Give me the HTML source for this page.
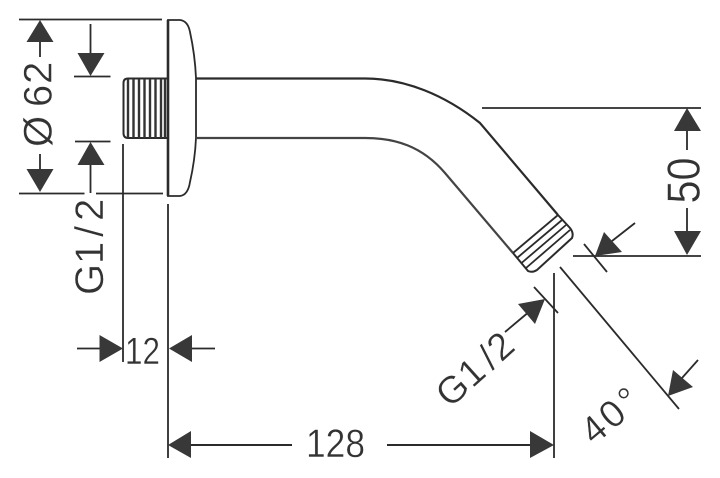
<!DOCTYPE html>
<html><head><meta charset="utf-8"><style>
html,body{margin:0;padding:0;background:#fff;width:720px;height:478px;overflow:hidden}
svg{display:block}
text{font-family:"Liberation Sans",sans-serif;fill:#333;font-size:40px;stroke:#fff;stroke-width:.4px}
</style></head><body>
<svg width="720" height="478" viewBox="0 0 720 478" xmlns="http://www.w3.org/2000/svg">
<rect width="720" height="478" fill="#fff"/>
<g fill="none" stroke="#2b2b2b" stroke-width="1.8">
<!-- left dimension lines -->
<path d="M19 19.5H162M19 193.5H84.5M96 193.5H163M74 76.5H110.5M75 141.5H110.5"/>
<path d="M40 40V57M40 154V170M90.5 24V55M90.5 163V193"/>
<path d="M123 144V362M168 204V458"/>
<path d="M77 348.5H101M192 348.5H215"/>
<path d="M191 445H292M387 445H532" stroke-width="2"/>
<!-- right dimension lines -->
<path d="M482 108H701M573 256H701M687 128V150M687 208V233"/>
<path d="M584 244L607 272M534 287L558 313M554 273V458M560 267L679 409"/>
<path d="M612 241L635 223M505 332L530 311M682 378L698 360"/>
</g>
<g fill="#383838" stroke="none">
<path d="M40 20L53.500 42H26.500Z"/>
<path d="M40 192L53.500 169H26.500Z"/>
<path d="M90.500 76L104.500 53H77.500Z"/>
<path d="M90.500 142L104.500 165H77.500Z"/>
<path d="M123 348.500L99.500 335V362Z"/>
<path d="M169 348.500L192 335V362Z"/>
<path d="M168 445L191 431V458Z"/>
<path d="M554 445L530 431V458Z"/>
<path d="M687 108L701 131H674Z"/>
<path d="M687 255L701 231H674Z"/>
<path d="M595 256L604 232L622 252Z"/>
<path d="M545 299L518 304L535 324Z"/>
<path d="M668 396L673 370L693 387Z"/>
</g>
<!-- plate -->
<g fill="none" stroke="#2b2b2b">
<path d="M168 196V20H180Q188 21 190 32Q195 55 196 78V138Q195 160 190 182Q188 195 180 196Z" stroke-width="1.800"/>
<path d="M168 20V196" stroke-width="2.600"/>
<!-- left thread -->
<path d="M168 78.500H128Q123.500 78.500 123.500 83V133Q123.500 138 128 138H168" stroke-width="2"/>
<path d="M128 79V138M133.500 79V138M139 79V138M144.500 79V138M150 79V138M155.500 79V138M161 79V138M165 79V138" stroke-width="2.400" stroke="#333"/>
<!-- pipe -->
<path d="M196 78.500H365C405 78.500 445 95 480 123L558 215" stroke-width="2.200"/>
<path d="M196 138H365C395 138 422 146 445 173L513 253" stroke-width="2.200" stroke="#444"/>
<!-- end thread -->
<path d="M558 215L570 228Q574 233 572 238L537 270Q532 273 528 271L513 253" stroke-width="2"/>
<path d="M513 253L558 215M517 258L562 220M521.500 263L566 225M526 268L570 230" stroke-width="1.800"/>
</g>
<!-- labels -->
<text transform="translate(51.500 147) rotate(-90)" x="0 30 40 63">Ø 62</text>
<text transform="translate(103 295) rotate(-90)" x="0 31 58 74">G1/2</text>
<text x="125" y="364" textLength="35" lengthAdjust="spacingAndGlyphs" style="font-size:38px">12</text>
<text x="306" y="457" textLength="59" lengthAdjust="spacingAndGlyphs">128</text>
<text transform="translate(699.500 203.500) rotate(-90)" textLength="46" lengthAdjust="spacingAndGlyphs" style="font-size:46px">50</text>
<text transform="translate(450 409) rotate(-42)" x="0 30 57 69" style="font-size:38px">G1/2</text>
<text transform="translate(594 446) rotate(-40)" x="0 24 49" style="font-size:38px">40°</text>
</svg>
</body></html>
